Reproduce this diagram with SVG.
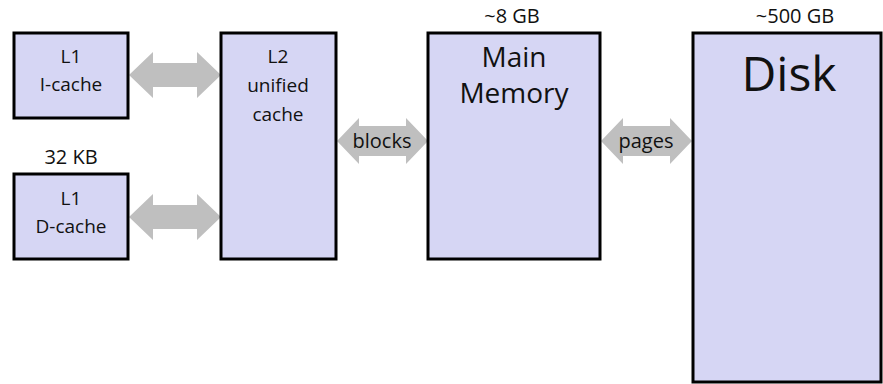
<svg xmlns="http://www.w3.org/2000/svg" width="883" height="384" viewBox="0 0 883 384">
<style>
.box{fill:#d6d6f4;stroke:#000;stroke-width:3}
.arr{fill:#bfbfbf}
text{font-family:"Open Sans","Noto Sans","Liberation Sans",sans-serif;fill:#111;text-anchor:middle}
.s{font-size:19px}
.c{font-size:20px}
.m{font-size:28px}
.l{font-size:48px}
</style>
<rect width="883" height="384" fill="#fff"/>
<g id="connectors">
<polygon class="arr" points="129,75 153,52 153,63 197,63 197,52 221,75 197,98 197,87 153,87 153,98"/>
<polygon class="arr" points="129,217 153,194 153,205 197,205 197,194 221,217 197,240 197,229 153,229 153,240"/>
<polygon class="arr" points="337,141 359,118 359,126 406,126 406,118 428,141 406,164 406,156 359,156 359,164"/>
<polygon class="arr" points="601,141 623,118 623,126 670,126 670,118 692,141 670,164 670,156 623,156 623,164"/>
<text class="c" x="382" y="148">blocks</text>
<text class="c" x="646" y="148">pages</text>
</g>
<g id="l1i">
<rect class="box" x="14" y="33" width="114" height="85"/>
<text class="s" x="71" y="63">L1</text>
<text class="s" x="71" y="91">I-cache</text>
</g>
<g id="l1d">
<text class="c" x="71" y="164">32 KB</text>
<rect class="box" x="14" y="174" width="114" height="85"/>
<text class="s" x="71" y="205">L1</text>
<text class="s" x="71" y="233">D-cache</text>
</g>
<g id="l2">
<rect class="box" x="221" y="33" width="115" height="226"/>
<text class="s" x="278" y="63">L2</text>
<text class="s" x="278" y="92">unified</text>
<text class="s" x="278" y="121">cache</text>
</g>
<g id="mem">
<text class="c" x="512" y="23">~8 GB</text>
<rect class="box" x="428" y="33" width="172" height="226"/>
<text class="m" x="514" y="67">Main</text>
<text class="m" x="514" y="103">Memory</text>
</g>
<g id="disk">
<text class="c" x="795" y="23">~500 GB</text>
<rect class="box" x="693" y="33" width="188" height="349"/>
<text class="l" x="789" y="91">Disk</text>
</g>
</svg>
